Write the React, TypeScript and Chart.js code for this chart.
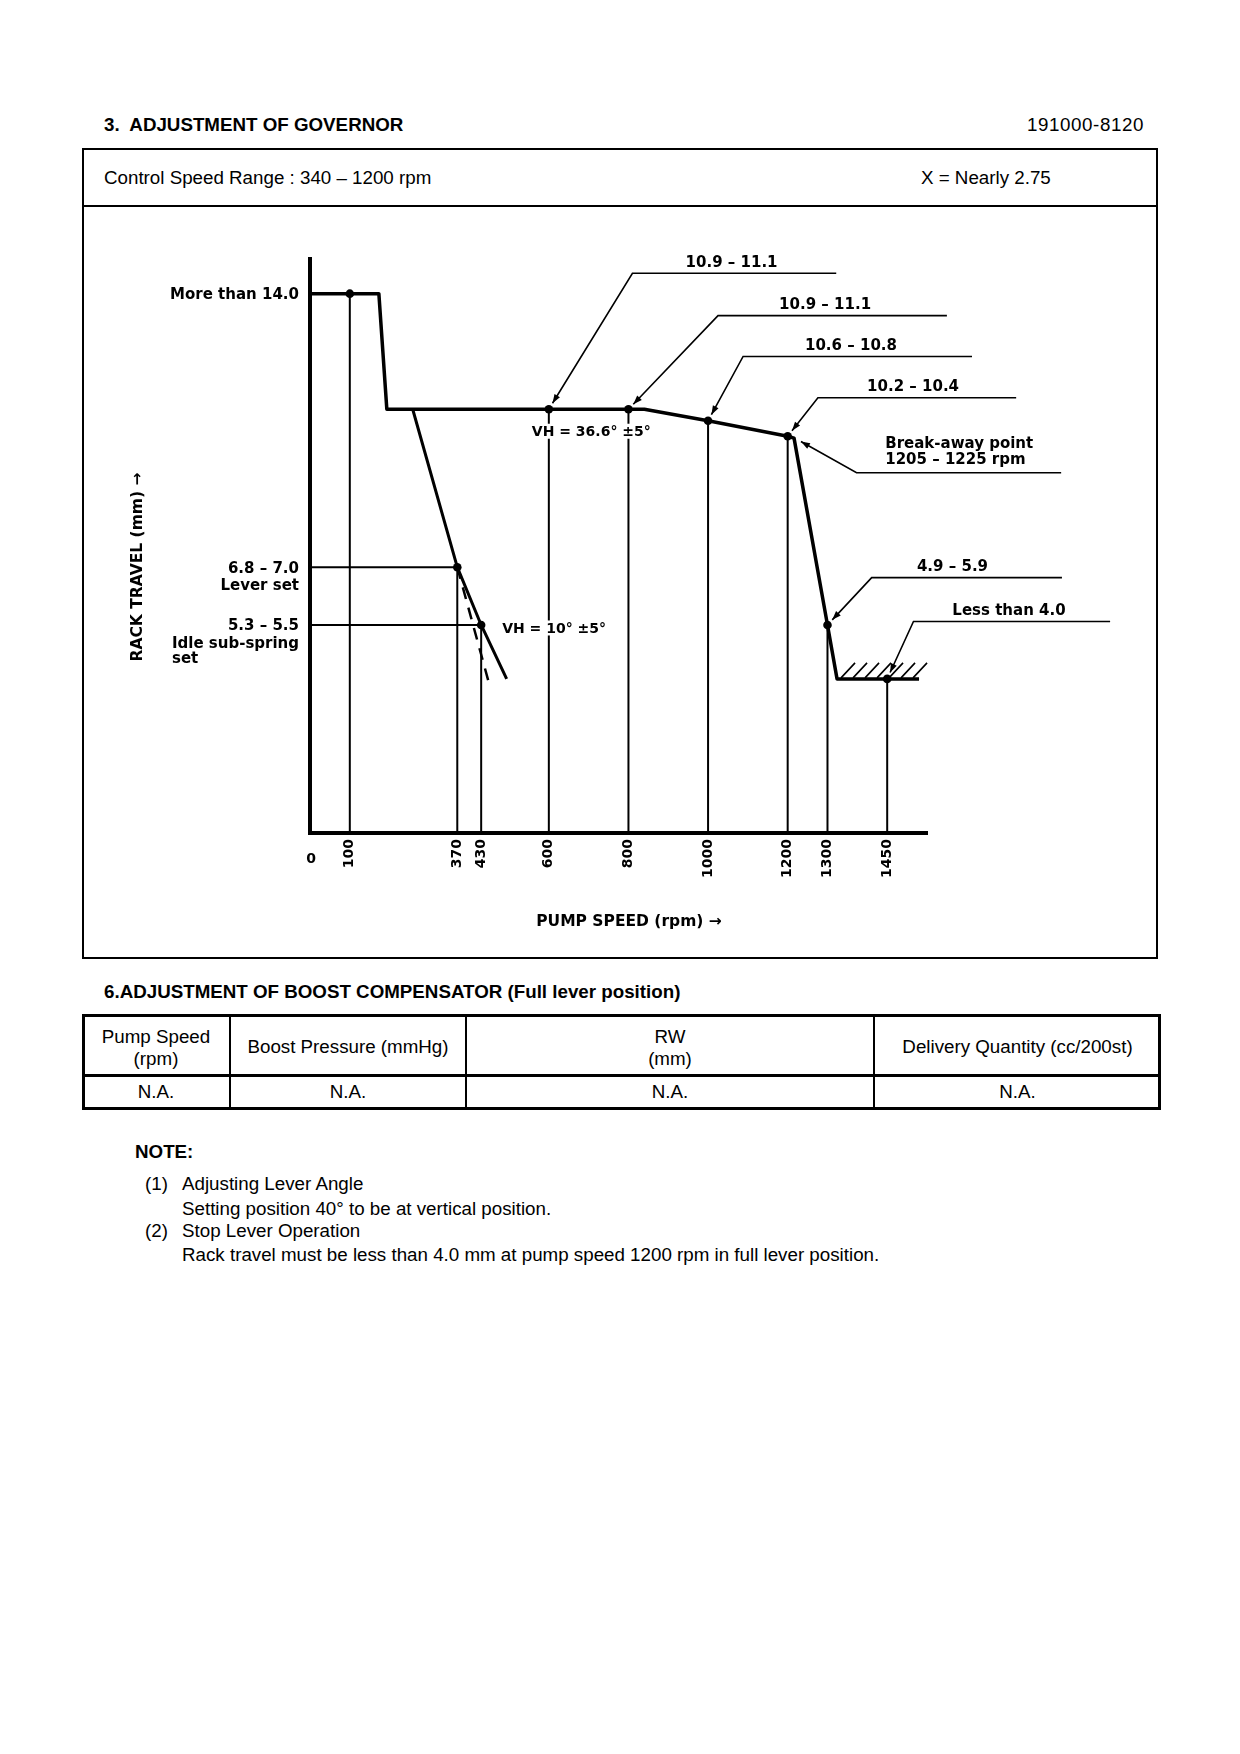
import React, { useEffect, useRef } from 'react';
import { Chart, registerables } from 'chart.js';

Chart.register(...registerables);

// ---------------- data (rpm / mm) ----------------
const speedTicks = [0, 100, 370, 430, 600, 800, 1000, 1200, 1300, 1450];

// full lever governor curve
const fullLeverSpeed = [0, 100, 173, 193, 600, 800, 840, 1000, 1200, 1216, 1300, 1324, 1450, 1530];
const fullLeverRack = [14.0, 14.0, 14.0, 11.0, 11.0, 11.0, 11.0, 10.7, 10.3, 10.25, 5.4, 4.0, 4.0, 4.0];

// lever set / idle sub-spring line
const idleSpeed = [258, 370, 430, 494];
const idleRack = [11.0, 6.9, 5.4, 4.0];

// dashed tolerance line
const idleTolSpeed = [370, 452];
const idleTolRack = [6.9, 3.8];

// check points (dots + vertical guides)
const checkSpeed = [100, 370, 430, 600, 800, 1000, 1200, 1300, 1450];
const checkRack = [14.0, 6.9, 5.4, 11.0, 11.0, 10.7, 10.3, 5.4, 4.0];

// horizontal guides from rack axis
const setLevelSpeed = [370, 430];
const setLevelRack = [6.9, 5.4];

// stop (hatched) region
const stopSpeed = [1324, 1530];
const stopRack = 4.0;

// rack-side labels
const rackLabelTexts = [['More than 14.0'], ['6.8 – 7.0', 'Lever set'], ['5.3 – 5.5', 'Idle sub-spring', 'set']];
const rackLabelValues = [14.0, 6.9, 5.4];

// callouts
const calloutTexts = [
  ['10.9 – 11.1'],
  ['10.9 – 11.1'],
  ['10.6 – 10.8'],
  ['10.2 – 10.4'],
  ['Break-away point', '1205 – 1225 rpm'],
  ['4.9 – 5.9'],
  ['Less than 4.0'],
];
const calloutTargetSpeed = [600, 800, 1000, 1200, 1218, 1300, 1450];
const calloutTargetRack = [11.0, 11.0, 10.7, 10.3, 10.25, 5.4, 4.0];
const calloutElbowSpeed = [810, 1025, 1088, 1276, 1373, 1411, 1516];
const calloutElbowRack = [14.53, 13.43, 12.37, 11.3, 9.35, 6.63, 5.49];
const calloutEndSpeed = [1322, 1600, 1663, 1774, 1887, 1889, 2010];
const calloutTextSpeed = [1059, 1294, 1359, 1515, 1445, 1614, 1756];

// lever angle notes
const vhTexts = ['VH = 36.6° ±5°', 'VH = 10° ±5°'];
const vhSpeed = [600, 430];
const vhRack = [11.0, 5.4];

const xTitle = 'PUMP SPEED (rpm) →';
const yTitle = 'RACK TRAVEL (mm) →';

// ---------------- drawing helpers ----------------
const CFONT = '"DejaVu Sans", "Liberation Sans", sans-serif';
const cfont = (size: number, bold = true) => `${bold ? 'bold ' : ''}${size}px ${CFONT}`;

function textAt(ctx: CanvasRenderingContext2D, text: string, x: number, cy: number, size: number, align: CanvasTextAlign) {
  ctx.font = cfont(size);
  ctx.textAlign = align;
  ctx.textBaseline = 'alphabetic';
  ctx.fillText(text, x, cy + size * 0.36);
}

function arrowHead(ctx: CanvasRenderingContext2D, tipX: number, tipY: number, fromX: number, fromY: number) {
  const len = 9;
  const half = 3.2;
  const a = Math.atan2(tipY - fromY, tipX - fromX);
  const bx = tipX - len * Math.cos(a);
  const by = tipY - len * Math.sin(a);
  ctx.beginPath();
  ctx.moveTo(tipX, tipY);
  ctx.lineTo(bx + half * Math.sin(a), by - half * Math.cos(a));
  ctx.lineTo(bx - half * Math.sin(a), by + half * Math.cos(a));
  ctx.closePath();
  ctx.fill();
}

const LABEL = 15;

const annotationPlugin = {
  id: 'governorAnnotations',
  afterDatasetsDraw(chart: any) {
    const { ctx, chartArea, scales } = chart;
    const xs = scales.x;
    const ys = scales.y;
    const px = (v: number) => xs.getPixelForValue(v);
    const py = (v: number) => ys.getPixelForValue(v);
    ctx.save();
    ctx.fillStyle = '#000';
    ctx.strokeStyle = '#000';

    // hatched stop region
    const hx0 = px(stopSpeed[0]);
    const hx1 = px(stopSpeed[1]);
    const hy = py(stopRack);
    ctx.lineWidth = 1.6;
    ctx.beginPath();
    for (let sx = hx0 + 4; sx + 14 <= hx1 + 8; sx += 12) {
      ctx.moveTo(sx, hy - 1);
      ctx.lineTo(sx + 14, hy - 16);
    }
    ctx.stroke();

    // callouts
    calloutTexts.forEach((lines, i) => {
      const tx = px(calloutTargetSpeed[i]);
      const ty = py(calloutTargetRack[i]);
      const ex = px(calloutElbowSpeed[i]);
      const ey = py(calloutElbowRack[i]);
      const endX = px(calloutEndSpeed[i]);
      const d = Math.hypot(ex - tx, ey - ty);
      const gap = 7;
      const tipX = tx + ((ex - tx) / d) * gap;
      const tipY = ty + ((ey - ty) / d) * gap;
      ctx.lineWidth = 1.6;
      ctx.beginPath();
      ctx.moveTo(tipX, tipY);
      ctx.lineTo(ex, ey);
      ctx.lineTo(endX, ey);
      ctx.stroke();
      arrowHead(ctx, tipX, tipY, ex, ey);
      const lx = px(calloutTextSpeed[i]);
      if (lines.length === 1) {
        textAt(ctx, lines[0], lx, ey - 12, LABEL, 'center');
      } else {
        lines.forEach((l, k) => textAt(ctx, l, lx, ey - 14 - (lines.length - 1 - k) * 16, LABEL, 'left'));
      }
    });

    // rack-side labels
    const right = chartArea.left - 11;
    rackLabelTexts.forEach((lines, i) => {
      const cy = py(rackLabelValues[i]);
      textAt(ctx, lines[0], right, cy, LABEL, 'right');
      if (lines.length > 1) {
        ctx.font = cfont(LABEL);
        const w = Math.max(...lines.slice(1).map((l) => ctx.measureText(l).width));
        lines.slice(1).forEach((l, k) => textAt(ctx, l, right - w, cy + 17.5 + k * 15.5, LABEL, 'left'));
      }
    });

    // VH notes
    const vhOffsets = [[-17, 22], [21, 3]];
    vhTexts.forEach((t, i) => {
      const x0 = px(vhSpeed[i]) + vhOffsets[i][0];
      const cy = py(vhRack[i]) + vhOffsets[i][1];
      ctx.font = cfont(14);
      const w = ctx.measureText(t).width;
      ctx.fillStyle = '#fff';
      ctx.fillRect(x0 - 2, cy - 7.5, w + 4, 15);
      ctx.fillStyle = '#000';
      textAt(ctx, t, x0, cy, 14, 'left');
    });

    // zero label (upright)
    textAt(ctx, '0', px(0) + 1, chartArea.bottom + 25, 14, 'center');

    // axis titles
    textAt(ctx, xTitle, chartArea.left + 319, chartArea.bottom + 87, 15.5, 'center');
    ctx.save();
    ctx.translate(chartArea.left - 174, chartArea.top + 308);
    ctx.rotate(-Math.PI / 2);
    textAt(ctx, yTitle, 0, 0, 15.5, 'center');
    ctx.restore();

    ctx.restore();
  },
};

const pts = (xs: number[], ys: number[]) => xs.map((x, i) => ({ x, y: ys[i] }));

function buildConfig(): any {
  const base = { borderColor: '#000', backgroundColor: '#000', pointRadius: 0, tension: 0, fill: false };
  const datasets: any[] = [
    { ...base, label: 'Check points', data: pts(checkSpeed, checkRack), showLine: false, pointRadius: 4.3, pointBackgroundColor: '#000', pointBorderWidth: 0 },
    { ...base, label: 'Full lever', data: pts(fullLeverSpeed, fullLeverRack), borderWidth: 3.5, borderJoinStyle: 'round' },
    { ...base, label: 'Lever set / idle', data: pts(idleSpeed, idleRack), borderWidth: 3, borderJoinStyle: 'round' },
    { ...base, label: 'Idle tolerance', data: pts(idleTolSpeed, idleTolRack), borderWidth: 2.5, borderDash: [12, 9] },
    ...checkSpeed.map((s, i) => ({ ...base, label: `Guide ${s}`, data: [{ x: s, y: 0 }, { x: s, y: checkRack[i] }], borderWidth: 2 })),
    ...setLevelSpeed.map((s, i) => ({ ...base, label: `Level ${setLevelRack[i]}`, data: [{ x: 0, y: setLevelRack[i] }, { x: s, y: setLevelRack[i] }], borderWidth: 2 })),
  ];
  return {
    type: 'line',
    data: { datasets },
    options: {
      animation: false,
      responsive: false,
      devicePixelRatio: 1,
      layout: { padding: { left: 0, top: 50, right: 228, bottom: 0 } },
      plugins: { legend: { display: false }, tooltip: { enabled: false }, title: { display: false } },
      scales: {
        x: {
          type: 'linear',
          min: 0,
          max: 1550,
          afterBuildTicks: (s: any) => {
            s.ticks = speedTicks.map((v) => ({ value: v }));
          },
          afterFit: (s: any) => {
            s.height = 123;
          },
          grid: { display: false, drawTicks: false },
          border: { display: true, color: '#000', width: 4 },
          ticks: {
            autoSkip: false,
            minRotation: 90,
            maxRotation: 90,
            padding: 6,
            color: '#000',
            font: { family: CFONT, weight: 'bold', size: 14 },
            callback: (v: any) => (v === 0 ? '' : String(v)),
          },
        },
        y: {
          type: 'linear',
          min: 0,
          max: 14.9,
          afterFit: (s: any) => {
            s.width = 225;
          },
          grid: { display: false, drawTicks: false },
          border: { display: true, color: '#000', width: 4 },
          ticks: { display: false },
        },
      },
    },
    plugins: [annotationPlugin],
  };
}

const abs = (left: number, top: number, extra: any = {}) => ({ position: 'absolute' as const, left, top, whiteSpace: 'pre' as const, lineHeight: '22px', ...extra });

export default function App() {
  const canvasRef = useRef<HTMLCanvasElement>(null);
  useEffect(() => {
    const chart = new Chart(canvasRef.current as HTMLCanvasElement, buildConfig());
    return () => chart.destroy();
  }, []);

  const cols = [82, 230, 466, 874, 1161];
  const headers = [['Pump Speed', '(rpm)'], ['Boost Pressure (mmHg)'], ['RW', '(mm)'], ['Delivery Quantity (cc/200st)']];
  const rowValues = ['N.A.', 'N.A.', 'N.A.', 'N.A.'];

  return (
    <div style={{ position: 'absolute', left: 0, top: 0, width: 1240, height: 1754, background: '#fff', color: '#000', fontFamily: '"Liberation Sans", Arial, Helvetica, sans-serif', fontSize: 18.75 }}>
      <div style={abs(104, 114, { fontWeight: 'bold' })}>{'3.  ADJUSTMENT OF GOVERNOR'}</div>
      <div style={{ ...abs(0, 114), left: undefined, right: 96, letterSpacing: '0.6px' }}>191000-8120</div>

      <div style={{ position: 'absolute', left: 82, top: 148, width: 1076, height: 811, border: '2px solid #000', boxSizing: 'border-box' }} />
      <div style={{ position: 'absolute', left: 82, top: 205, width: 1076, height: 2, background: '#000' }} />
      <div style={abs(104, 167)}>Control Speed Range : 340 – 1200 rpm</div>
      <div style={abs(921, 167)}>X = Nearly 2.75</div>
      <canvas ref={canvasRef} width={1070} height={747} style={{ position: 'absolute', left: 85, top: 209, width: 1070, height: 747 }} />

      <div style={abs(104, 981, { fontWeight: 'bold' })}>6.ADJUSTMENT OF BOOST COMPENSATOR (Full lever position)</div>

      <div style={{ position: 'absolute', left: 82, top: 1014, width: 1079, height: 96, border: '3px solid #000', boxSizing: 'border-box' }} />
      <div style={{ position: 'absolute', left: 82, top: 1074, width: 1079, height: 3, background: '#000' }} />
      {cols.slice(1, 4).map((c) => (
        <div key={c} style={{ position: 'absolute', left: c - 1, top: 1014, width: 2, height: 96, background: '#000' }} />
      ))}
      {headers.map((h, i) => (
        <div key={'h' + i} style={{ position: 'absolute', left: cols[i], width: cols[i + 1] - cols[i], top: h.length === 2 ? 1025.5 : 1035.5, textAlign: 'center', lineHeight: '22.5px' }}>
          {h.map((l, k) => (
            <div key={k}>{l}</div>
          ))}
        </div>
      ))}
      {rowValues.map((v, i) => (
        <div key={'v' + i} style={{ position: 'absolute', left: cols[i], width: cols[i + 1] - cols[i], top: 1081, textAlign: 'center', lineHeight: '22px' }}>
          {v}
        </div>
      ))}

      <div style={abs(135, 1141, { fontWeight: 'bold' })}>NOTE:</div>
      <div style={abs(145, 1173)}>(1)</div>
      <div style={abs(182, 1173)}>Adjusting Lever Angle</div>
      <div style={abs(182, 1197.5)}>Setting position 40° to be at vertical position.</div>
      <div style={abs(145, 1220)}>(2)</div>
      <div style={abs(182, 1220)}>Stop Lever Operation</div>
      <div style={abs(182, 1243.5)}>Rack travel must be less than 4.0 mm at pump speed 1200 rpm in full lever position.</div>
    </div>
  );
}
